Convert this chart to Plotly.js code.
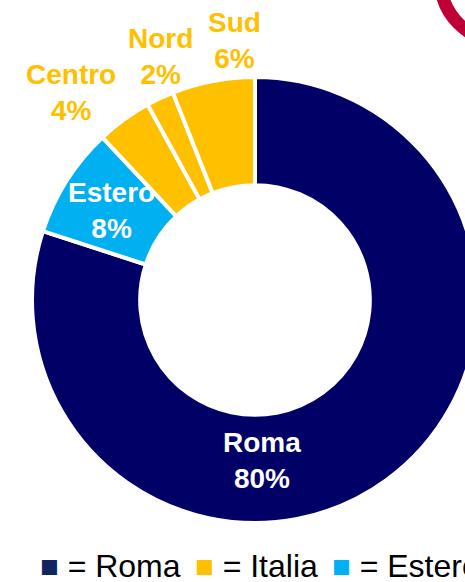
<!DOCTYPE html>
<html>
<head>
<meta charset="utf-8">
<script src="https://cdn.plot.ly/plotly-3.0.1.min.js"></script>
<style>
  html, body { margin: 0; padding: 0; overflow: hidden; background: #ffffff; }
  #chart { width: 520px; height: 582px; }
</style>
</head>
<body>
<div id="chart"></div>
<script>
// ---- data ----
const labels = ['Roma', 'Estero', 'Centro', 'Nord', 'Sud'];
const values = [80, 8, 4, 2, 6];
const sliceColors = ['#000066', '#00B0F0', '#FFC000', '#FFC000', '#FFC000'];
const legendNames = ['Roma', 'Italia', 'Estero'];
const legendColors = ['#0F2560', '#FFC000', '#00B0F0'];

// ---- layout / style (not data) ----
const W = 520, H = 582;
const FONT = 'Liberation Sans, Arial, sans-serif';
const labelPos = [[262, 460], [111, 210], [71, 93], [160, 57], [234, 41]]; // label centres, px
const labelColors = ['#ffffff', '#ffffff', '#FFC000', '#FFC000', '#FFC000'];
const legendX = [38, 193, 330];

const total = values.reduce((a, b) => a + b, 0);

const trace = {
  type: 'pie',
  labels: labels,
  values: values,
  sort: false,
  direction: 'clockwise',
  rotation: 0,
  hole: 0.515,
  marker: { colors: sliceColors, line: { color: '#ffffff', width: 4 } },
  textinfo: 'none',
  showlegend: false,
  hoverinfo: 'label+percent',
  domain: { x: [32 / W, 478 / W], y: [59 / H, 505 / H] }
};

const annotations = labels.map((l, i) => ({
  xref: 'paper', yref: 'paper',
  x: labelPos[i][0] / W, y: 1 - labelPos[i][1] / H,
  text: l + '<br>' + Math.round(values[i] / total * 100) + '%',
  showarrow: false, xanchor: 'center', yanchor: 'middle',
  font: { family: FONT, size: 28, weight: 700, color: labelColors[i] }
}));

legendNames.forEach((n, i) => {
  annotations.push({
    xref: 'paper', yref: 'paper', x: legendX[i] / W, y: 1 - 566 / H,
    text: '<span style="color:' + legendColors[i] + ';font-size:31px">■</span> = ' + n,
    showarrow: false, xanchor: 'left', yanchor: 'middle',
    font: { family: FONT, size: 32, color: '#000000' }
  });
});

const layout = {
  width: W, height: H,
  margin: { l: 0, r: 0, t: 0, b: 0 },
  paper_bgcolor: '#ffffff',
  annotations: annotations,
  shapes: [{
    type: 'circle', xref: 'paper', yref: 'paper',
    x0: (502 - 61.5) / W, x1: (502 + 61.5) / W,
    y0: 1 - (-20 + 61.5) / H, y1: 1 - (-20 - 61.5) / H,
    line: { color: '#BE0036', width: 13 }, fillcolor: 'rgba(0,0,0,0)'
  }]
};

Plotly.newPlot('chart', [trace], layout, { displayModeBar: false, staticPlot: true });
</script>
</body>
</html>
